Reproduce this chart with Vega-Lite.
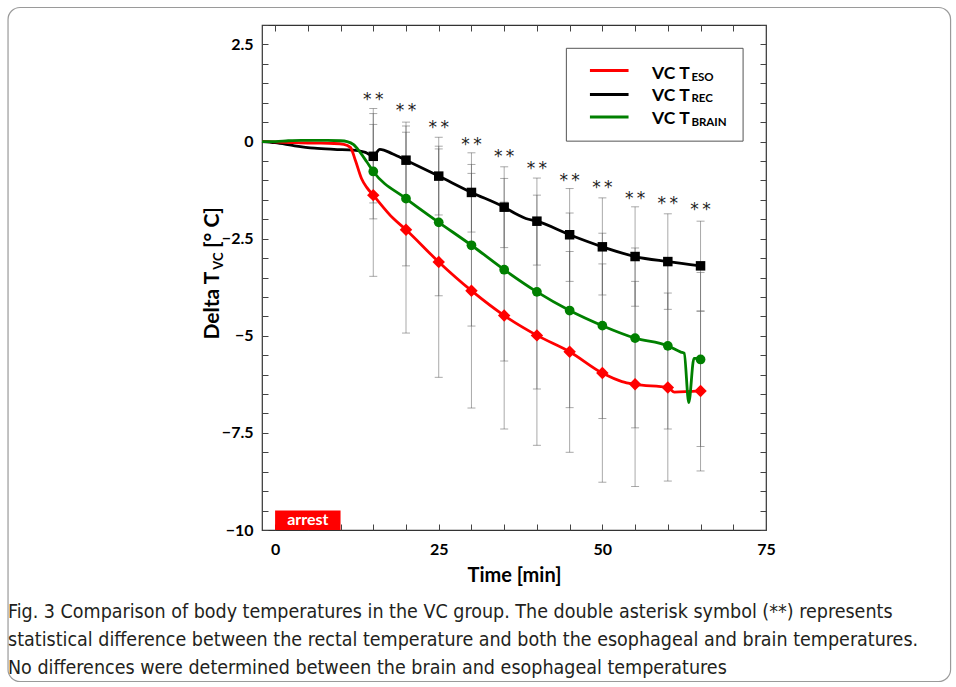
{
  "$schema": "https://vega.github.io/schema/vega-lite/v6.json",
  "width": 504,
  "height": 505,
  "autosize": {"type": "none"},
  "padding": {"left": 262, "top": 25, "right": 190, "bottom": 157},
  "background": "white",
  "config": {
    "view": {"stroke": "#333", "strokeWidth": 1.2},
    "font": "Lato",
    "axis": {"grid": false, "domain": false, "tickSize": -6, "tickColor": "#444", "tickWidth": 1, "labelFont": "Lato", "labelFontSize": 16, "labelFontWeight": "bold", "labelColor": "#000", "titleFont": "Lato", "titleFontSize": 20, "titleFontWeight": "bold", "titleColor": "#000"}
  },
  "title": {
    "text": ["Fig. 3 Comparison of body temperatures in the VC group. The double asterisk symbol (**) represents", "statistical difference between the rectal temperature and both the esophageal and brain temperatures.", "No differences were determined between the brain and esophageal temperatures"],
    "orient": "bottom", "anchor": "start", "frame": "group", "dx": -254, "offset": -79,
    "font": "Liberation Sans Narrow, DejaVu Sans Condensed, sans-serif", "fontSize": 19.5, "fontWeight": "normal", "color": "#231f20", "lineHeight": 28
  },
  "datasets": {
    "lines": [
      {"series": "REC", "t": -2, "v": 0}, {"series": "REC", "t": 0, "v": -0.03}, {"series": "REC", "t": 3, "v": -0.11}, {"series": "REC", "t": 6, "v": -0.17}, {"series": "REC", "t": 9, "v": -0.2}, {"series": "REC", "t": 12, "v": -0.22}, {"series": "REC", "t": 13.8, "v": -0.28}, {"series": "REC", "t": 15, "v": -0.38}, {"series": "REC", "t": 16, "v": -0.2}, {"series": "REC", "t": 18, "v": -0.32}, {"series": "REC", "t": 20, "v": -0.48}, {"series": "REC", "t": 25, "v": -0.89}, {"series": "REC", "t": 30, "v": -1.31}, {"series": "REC", "t": 35, "v": -1.69}, {"series": "REC", "t": 37, "v": -1.88}, {"series": "REC", "t": 38.3, "v": -1.98}, {"series": "REC", "t": 40, "v": -2.05}, {"series": "REC", "t": 45, "v": -2.4}, {"series": "REC", "t": 50, "v": -2.71}, {"series": "REC", "t": 55, "v": -2.96}, {"series": "REC", "t": 60, "v": -3.09}, {"series": "REC", "t": 65, "v": -3.2},
      {"series": "ESO", "t": -2, "v": 0}, {"series": "ESO", "t": 0, "v": -0.01}, {"series": "ESO", "t": 3, "v": -0.03}, {"series": "ESO", "t": 6, "v": -0.04}, {"series": "ESO", "t": 9, "v": -0.05}, {"series": "ESO", "t": 10.5, "v": -0.07}, {"series": "ESO", "t": 11.5, "v": -0.15}, {"series": "ESO", "t": 12.3, "v": -0.5}, {"series": "ESO", "t": 13.2, "v": -0.95}, {"series": "ESO", "t": 14, "v": -1.18}, {"series": "ESO", "t": 15, "v": -1.38}, {"series": "ESO", "t": 18, "v": -1.97}, {"series": "ESO", "t": 20, "v": -2.27}, {"series": "ESO", "t": 25, "v": -3.1}, {"series": "ESO", "t": 30, "v": -3.84}, {"series": "ESO", "t": 35, "v": -4.48}, {"series": "ESO", "t": 40, "v": -4.99}, {"series": "ESO", "t": 45, "v": -5.41}, {"series": "ESO", "t": 50, "v": -5.96}, {"series": "ESO", "t": 53, "v": -6.18}, {"series": "ESO", "t": 55, "v": -6.25}, {"series": "ESO", "t": 60, "v": -6.33}, {"series": "ESO", "t": 61, "v": -6.45}, {"series": "ESO", "t": 65, "v": -6.42},
      {"series": "BRAIN", "t": -2, "v": 0}, {"series": "BRAIN", "t": 0, "v": 0}, {"series": "BRAIN", "t": 2, "v": 0.02}, {"series": "BRAIN", "t": 4, "v": 0.03}, {"series": "BRAIN", "t": 8, "v": 0.03}, {"series": "BRAIN", "t": 10, "v": 0.02}, {"series": "BRAIN", "t": 11, "v": 0}, {"series": "BRAIN", "t": 12, "v": -0.08}, {"series": "BRAIN", "t": 13, "v": -0.28}, {"series": "BRAIN", "t": 14, "v": -0.52}, {"series": "BRAIN", "t": 15, "v": -0.77}, {"series": "BRAIN", "t": 20, "v": -1.47}, {"series": "BRAIN", "t": 25, "v": -2.08}, {"series": "BRAIN", "t": 30, "v": -2.67}, {"series": "BRAIN", "t": 35, "v": -3.3}, {"series": "BRAIN", "t": 40, "v": -3.87}, {"series": "BRAIN", "t": 45, "v": -4.35}, {"series": "BRAIN", "t": 50, "v": -4.74}, {"series": "BRAIN", "t": 55, "v": -5.06}, {"series": "BRAIN", "t": 60, "v": -5.26}, {"series": "BRAIN", "t": 62, "v": -5.42}, {"series": "BRAIN", "t": 62.5, "v": -5.45}, {"series": "BRAIN", "t": 63.2, "v": -6.72}, {"series": "BRAIN", "t": 64, "v": -5.58}, {"series": "BRAIN", "t": 64.5, "v": -5.58}, {"series": "BRAIN", "t": 65, "v": -5.61}
    ],
    "bars": [
      {"series": "REC", "t": 15, "v": -0.38, "lo": -1.58, "hi": 0.85}, {"series": "REC", "t": 20, "v": -0.48, "lo": -1.46, "hi": 0.5}, {"series": "REC", "t": 25, "v": -0.89, "lo": -1.89, "hi": 0.11}, {"series": "REC", "t": 30, "v": -1.31, "lo": -2.33, "hi": -0.29}, {"series": "REC", "t": 35, "v": -1.69, "lo": -2.73, "hi": -0.65}, {"series": "REC", "t": 40, "v": -2.05, "lo": -3.18, "hi": -0.94}, {"series": "REC", "t": 45, "v": -2.4, "lo": -3.6, "hi": -1.21}, {"series": "REC", "t": 50, "v": -2.71, "lo": -3.95, "hi": -1.45}, {"series": "REC", "t": 55, "v": -2.96, "lo": -4.24, "hi": -1.68}, {"series": "REC", "t": 60, "v": -3.09, "lo": -4.32, "hi": -1.86}, {"series": "REC", "t": 65, "v": -3.2, "lo": -4.36, "hi": -2.05},
      {"series": "ESO", "t": 15, "v": -1.38, "lo": -3.47, "hi": 0.72}, {"series": "ESO", "t": 20, "v": -2.27, "lo": -4.93, "hi": 0.4}, {"series": "ESO", "t": 25, "v": -3.1, "lo": -6.07, "hi": -0.12}, {"series": "ESO", "t": 30, "v": -3.84, "lo": -6.86, "hi": -0.82}, {"series": "ESO", "t": 35, "v": -4.48, "lo": -7.4, "hi": -1.56}, {"series": "ESO", "t": 40, "v": -4.99, "lo": -7.82, "hi": -2.16}, {"series": "ESO", "t": 45, "v": -5.41, "lo": -8.0, "hi": -2.83}, {"series": "ESO", "t": 50, "v": -5.96, "lo": -8.77, "hi": -3.15}, {"series": "ESO", "t": 55, "v": -6.25, "lo": -8.88, "hi": -3.6}, {"series": "ESO", "t": 60, "v": -6.33, "lo": -8.74, "hi": -3.9}, {"series": "ESO", "t": 65, "v": -6.42, "lo": -8.48, "hi": -4.37},
      {"series": "BRAIN", "t": 15, "v": -0.77, "lo": -1.99, "hi": 0.44}, {"series": "BRAIN", "t": 20, "v": -1.47, "lo": -3.2, "hi": 0.24}, {"series": "BRAIN", "t": 25, "v": -2.08, "lo": -3.97, "hi": -0.19}, {"series": "BRAIN", "t": 30, "v": -2.67, "lo": -4.75, "hi": -0.59}, {"series": "BRAIN", "t": 35, "v": -3.3, "lo": -5.65, "hi": -0.95}, {"series": "BRAIN", "t": 40, "v": -3.87, "lo": -6.37, "hi": -1.38}, {"series": "BRAIN", "t": 45, "v": -4.35, "lo": -6.85, "hi": -1.84}, {"series": "BRAIN", "t": 50, "v": -4.74, "lo": -7.13, "hi": -2.36}, {"series": "BRAIN", "t": 55, "v": -5.06, "lo": -7.37, "hi": -2.74}, {"series": "BRAIN", "t": 60, "v": -5.26, "lo": -7.4, "hi": -3.12}, {"series": "BRAIN", "t": 65, "v": -5.61, "lo": -7.85, "hi": -3.37}
    ],
    "stars": [
      {"t": 15, "v": 1.21}, {"t": 20, "v": 0.91}, {"t": 25, "v": 0.48}, {"t": 30, "v": 0.03}, {"t": 35, "v": -0.28}, {"t": 40, "v": -0.59}, {"t": 45, "v": -0.89}, {"t": 50, "v": -1.06}, {"t": 55, "v": -1.34}, {"t": 60, "v": -1.49}, {"t": 65, "v": -1.64}
    ]
  },
  "layer": [
    {
      "layer": [
        {
          "data": {"name": "bars"},
          "mark": {"type": "rule", "color": "#555", "opacity": 0.5, "strokeWidth": 1},
          "encoding": {
            "x": {"field": "t", "type": "quantitative", "scale": {"domain": [-2, 75], "nice": false, "zero": false}, "axis": null},
            "y": {"field": "lo", "type": "quantitative", "scale": {"domain": [-10, 3], "nice": false, "zero": false}, "axis": null},
            "y2": {"field": "hi"}
          }
        },
        {
          "data": {"name": "bars"},
          "mark": {"type": "tick", "orient": "horizontal", "size": 8, "thickness": 1, "color": "#555", "opacity": 0.5},
          "encoding": {"x": {"field": "t", "type": "quantitative", "axis": null}, "y": {"field": "lo", "type": "quantitative", "axis": null}}
        },
        {
          "data": {"name": "bars"},
          "mark": {"type": "tick", "orient": "horizontal", "size": 8, "thickness": 1, "color": "#555", "opacity": 0.5},
          "encoding": {"x": {"field": "t", "type": "quantitative", "axis": null}, "y": {"field": "hi", "type": "quantitative", "axis": null}}
        },
        {
          "data": {"name": "lines"},
          "mark": {"type": "line", "strokeWidth": 2.8, "interpolate": "monotone"},
          "encoding": {
            "x": {"field": "t", "type": "quantitative", "axis": null},
            "y": {"field": "v", "type": "quantitative", "axis": null},
            "color": {"field": "series", "type": "nominal", "scale": {"domain": ["REC", "ESO", "BRAIN"], "range": ["#000000", "#ff0000", "#008000"]}, "legend": null}
          }
        },
        {
          "data": {"name": "bars"},
          "mark": {"type": "point", "filled": true, "opacity": 1},
          "encoding": {
            "x": {"field": "t", "type": "quantitative", "axis": null},
            "y": {"field": "v", "type": "quantitative", "axis": null},
            "color": {"field": "series", "type": "nominal", "scale": {"domain": ["REC", "ESO", "BRAIN"], "range": ["#000000", "#ff0000", "#008000"]}, "legend": null},
            "shape": {"field": "series", "type": "nominal", "scale": {"domain": ["REC", "ESO", "BRAIN"], "range": ["square", "diamond", "circle"]}, "legend": null},
            "size": {"field": "series", "type": "nominal", "scale": {"type": "ordinal", "domain": ["REC", "ESO", "BRAIN"], "range": [90, 155, 95]}, "legend": null}
          }
        },
        {
          "data": {"name": "stars"},
          "mark": {"type": "text", "text": "*\u2009*", "font": "DejaVu Sans", "fontSize": 17, "baseline": "alphabetic", "dy": 10, "color": "#222"},
          "encoding": {"x": {"field": "t", "type": "quantitative", "axis": null}, "y": {"field": "v", "type": "quantitative", "axis": null}}
        },
        {
          "data": {"values": [{}]},
          "mark": {"type": "rect", "color": "#ff0000"},
          "encoding": {"x": {"datum": 0, "axis": null}, "x2": {"datum": 10}, "y": {"datum": -10, "axis": null}, "y2": {"datum": -9.5}}
        },
        {
          "data": {"values": [{}]},
          "mark": {"type": "text", "text": "arrest", "color": "white", "font": "Lato", "fontWeight": "bold", "fontSize": 16, "align": "center", "baseline": "middle"},
          "encoding": {"x": {"datum": 5, "axis": null}, "y": {"datum": -9.75, "axis": null}}
        },
        {
          "data": {"values": [{}]},
          "mark": {"type": "rect", "fill": "white", "stroke": "#555", "strokeWidth": 1},
          "encoding": {"x": {"datum": 44.5, "axis": null}, "x2": {"datum": 71.5}, "y": {"datum": 2.4, "axis": null}, "y2": {"datum": 0.01}}
        },
        {
          "data": {"values": [{}]},
          "mark": {"type": "rule", "color": "#ff0000", "strokeWidth": 3},
          "encoding": {"x": {"datum": 48.1, "axis": null}, "x2": {"datum": 54}, "y": {"datum": 1.83, "axis": null}}
        },
        {
          "data": {"values": [{}]},
          "mark": {"type": "rule", "color": "#000000", "strokeWidth": 3},
          "encoding": {"x": {"datum": 48.1, "axis": null}, "x2": {"datum": 54}, "y": {"datum": 1.21, "axis": null}}
        },
        {
          "data": {"values": [{}]},
          "mark": {"type": "rule", "color": "#008000", "strokeWidth": 3},
          "encoding": {"x": {"datum": 48.1, "axis": null}, "x2": {"datum": 54}, "y": {"datum": 0.63, "axis": null}}
        },
        {
          "data": {"values": [{}]},
          "mark": {"type": "text", "text": "VC T", "font": "Lato", "fontWeight": "bold", "fontSize": 17.5, "align": "left", "baseline": "alphabetic", "color": "#000"},
          "encoding": {"x": {"datum": 57.6, "axis": null}, "y": {"datum": 1.6, "axis": null}}
        },
        {
          "data": {"values": [{}]},
          "mark": {"type": "text", "text": "VC T", "font": "Lato", "fontWeight": "bold", "fontSize": 17.5, "align": "left", "baseline": "alphabetic", "color": "#000"},
          "encoding": {"x": {"datum": 57.6, "axis": null}, "y": {"datum": 1.04, "axis": null}}
        },
        {
          "data": {"values": [{}]},
          "mark": {"type": "text", "text": "VC T", "font": "Lato", "fontWeight": "bold", "fontSize": 17.5, "align": "left", "baseline": "alphabetic", "color": "#000"},
          "encoding": {"x": {"datum": 57.6, "axis": null}, "y": {"datum": 0.44, "axis": null}}
        },
        {
          "data": {"values": [{}]},
          "mark": {"type": "text", "text": "ESO", "font": "Lato", "fontWeight": "bold", "fontSize": 11.5, "align": "left", "baseline": "alphabetic", "color": "#000"},
          "encoding": {"x": {"datum": 63.6, "axis": null}, "y": {"datum": 1.57, "axis": null}}
        },
        {
          "data": {"values": [{}]},
          "mark": {"type": "text", "text": "REC", "font": "Lato", "fontWeight": "bold", "fontSize": 11.5, "align": "left", "baseline": "alphabetic", "color": "#000"},
          "encoding": {"x": {"datum": 63.6, "axis": null}, "y": {"datum": 1.01, "axis": null}}
        },
        {
          "data": {"values": [{}]},
          "mark": {"type": "text", "text": "BRAIN", "font": "Lato", "fontWeight": "bold", "fontSize": 11.5, "align": "left", "baseline": "alphabetic", "color": "#000"},
          "encoding": {"x": {"datum": 63.6, "axis": null}, "y": {"datum": 0.41, "axis": null}}
        },
        {
          "data": {"values": [{}]},
          "mark": {"type": "text", "text": "Delta T", "font": "Lato", "fontWeight": "bold", "fontSize": 21, "angle": 270, "align": "right", "baseline": "alphabetic", "color": "#000"},
          "encoding": {"x": {"datum": -8.6, "axis": null}, "y": {"datum": -3.35, "axis": null}}
        },
        {
          "data": {"values": [{}]},
          "mark": {"type": "text", "text": "VC", "font": "Lato", "fontWeight": "bold", "fontSize": 13, "angle": 270, "align": "left", "baseline": "alphabetic", "color": "#000"},
          "encoding": {"x": {"datum": -8.0, "axis": null}, "y": {"datum": -3.3, "axis": null}}
        },
        {
          "data": {"values": [{}]},
          "mark": {"type": "text", "text": "[° C]", "font": "Lato", "fontWeight": "bold", "fontSize": 21, "angle": 270, "align": "left", "baseline": "alphabetic", "color": "#000"},
          "encoding": {"x": {"datum": -8.6, "axis": null}, "y": {"datum": -2.74, "axis": null}}
        },
        {
          "data": {"values": [{}]},
          "mark": {"type": "rect", "fillOpacity": 0, "stroke": "#9a9a9a", "strokeWidth": 1.2, "cornerRadius": 12},
          "encoding": {"x": {"datum": -40.8, "axis": null}, "x2": {"datum": 103.2}, "y": {"datum": 3.45, "axis": null}, "y2": {"datum": -13.9}}
        }
      ]
    },
    {
      "data": {"name": "stars"},
      "mark": {"type": "point", "opacity": 0},
      "encoding": {
        "x": {"field": "t", "type": "quantitative", "scale": {"domain": [-2, 75], "nice": false, "zero": false},
          "axis": {"orient": "bottom", "title": "Time [min]", "values": [0, 5, 10, 15, 20, 25, 30, 35, 40, 45, 50, 55, 60, 65, 70, 75], "labelExpr": "datum.value % 25 === 0 ? format(datum.value, 'd') : ''", "labelPadding": 17, "titlePadding": 8, "labelFlush": false, "labelOverlap": false}},
        "y": {"field": "v", "type": "quantitative", "scale": {"domain": [-10, 3], "nice": false, "zero": false},
          "axis": {"orient": "left", "title": null, "values": [-10, -9.5, -9, -8.5, -8, -7.5, -7, -6.5, -6, -5.5, -5, -4.5, -4, -3.5, -3, -2.5, -2, -1.5, -1, -0.5, 0, 0.5, 1, 1.5, 2, 2.5, 3], "labelExpr": "datum.value % 2.5 === 0 ? format(datum.value, '~g') : ''", "labelPadding": 15, "labelFlush": false, "labelOverlap": false}}
      }
    },
    {
      "data": {"name": "stars"},
      "mark": {"type": "point", "opacity": 0},
      "encoding": {
        "x": {"field": "t", "type": "quantitative",
          "axis": {"orient": "top", "title": null, "labels": false, "values": [0, 5, 10, 15, 20, 25, 30, 35, 40, 45, 50, 55, 60, 65, 70, 75]}},
        "y": {"field": "v", "type": "quantitative",
          "axis": {"orient": "right", "title": null, "labels": false, "values": [-10, -9.5, -9, -8.5, -8, -7.5, -7, -6.5, -6, -5.5, -5, -4.5, -4, -3.5, -3, -2.5, -2, -1.5, -1, -0.5, 0, 0.5, 1, 1.5, 2, 2.5, 3]}}
      }
    }
  ],
  "resolve": {"axis": {"x": "independent", "y": "independent"}}
}
